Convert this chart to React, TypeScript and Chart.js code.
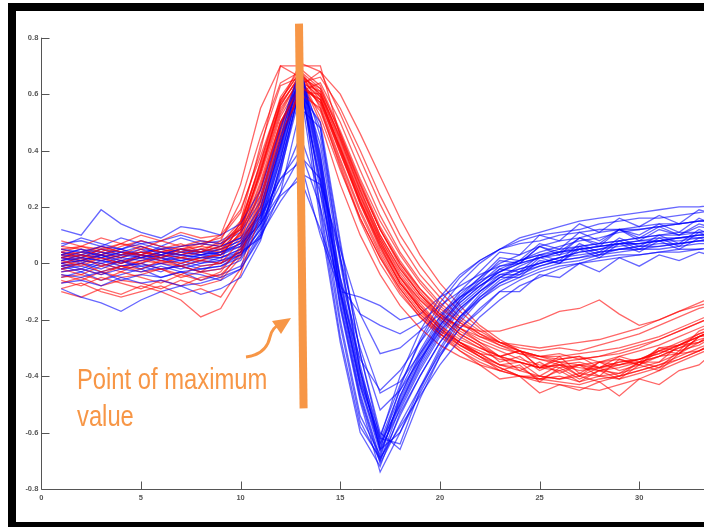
import React, { useEffect, useRef } from "react";
import { Chart, registerables } from "chart.js";

Chart.register(...registerables);

// Sample index (x) of every waveform
const samples = [1, 2, 3, 4, 5, 6, 7, 8, 9, 10, 11, 12, 13, 14, 15, 16, 17, 18, 19, 20, 21, 22, 23, 24, 25, 26, 27, 28, 29, 30, 31, 32, 33, 34];

// Red cluster waveforms
const redTraces: number[][] = [
  [0.02, 0.03, 0.01, 0.03, 0.04, 0.02, 0.05, 0.04, 0.06, 0.14, 0.34, 0.56, 0.67, 0.60, 0.42, 0.24, 0.09, -0.03, -0.12, -0.19, -0.25, -0.29, -0.33, -0.31, -0.37, -0.33, -0.39, -0.35, -0.34, -0.36, -0.30, -0.29, -0.25, -0.23],
  [-0.03, -0.02, -0.04, -0.01, -0.03, -0.02, -0.04, -0.01, 0.00, 0.08, 0.27, 0.50, 0.63, 0.57, 0.39, 0.21, 0.06, -0.07, -0.16, -0.23, -0.28, -0.32, -0.36, -0.37, -0.41, -0.38, -0.42, -0.38, -0.41, -0.36, -0.38, -0.32, -0.31, -0.27],
  [0.05, 0.06, 0.04, 0.07, 0.05, 0.08, 0.06, 0.07, 0.09, 0.18, 0.40, 0.70, 0.70, 0.70, 0.45, 0.27, 0.12, 0.00, -0.09, -0.16, -0.21, -0.26, -0.29, -0.31, -0.33, -0.32, -0.34, -0.33, -0.31, -0.29, -0.27, -0.24, -0.21, -0.18],
  [-0.06, -0.08, -0.05, -0.07, -0.09, -0.06, -0.08, -0.05, -0.04, 0.03, 0.22, 0.46, 0.60, 0.55, 0.36, 0.18, 0.03, -0.09, -0.18, -0.25, -0.30, -0.34, -0.37, -0.40, -0.41, -0.42, -0.43, -0.41, -0.40, -0.38, -0.36, -0.33, -0.30, -0.27],
  [0.01, -0.01, 0.02, 0.00, 0.03, 0.01, 0.00, 0.02, 0.03, 0.11, 0.31, 0.53, 0.66, 0.62, 0.46, 0.28, 0.12, 0.00, -0.10, -0.18, -0.24, -0.28, -0.33, -0.31, -0.37, -0.34, -0.33, -0.37, -0.33, -0.35, -0.30, -0.31, -0.24, -0.21],
  [0.08, 0.06, 0.09, 0.07, 0.10, 0.08, 0.11, 0.09, 0.10, 0.19, 0.38, 0.58, 0.68, 0.59, 0.40, 0.21, 0.05, -0.07, -0.15, -0.22, -0.27, -0.30, -0.33, -0.35, -0.37, -0.38, -0.36, -0.37, -0.35, -0.34, -0.31, -0.29, -0.26, -0.23],
  [-0.02, 0.00, -0.03, -0.01, -0.02, 0.01, -0.01, -0.03, -0.02, 0.05, 0.24, 0.48, 0.64, 0.61, 0.44, 0.26, 0.10, -0.02, -0.11, -0.18, -0.23, -0.27, -0.30, -0.32, -0.33, -0.33, -0.32, -0.31, -0.30, -0.28, -0.26, -0.23, -0.20, -0.17],
  [-0.10, -0.12, -0.09, -0.11, -0.08, -0.10, -0.13, -0.19, -0.16, -0.04, 0.18, 0.44, 0.62, 0.58, 0.41, 0.23, 0.08, -0.05, -0.14, -0.22, -0.28, -0.33, -0.37, -0.40, -0.42, -0.43, -0.44, -0.45, -0.43, -0.41, -0.38, -0.35, -0.32, -0.29],
  [0.03, 0.04, 0.06, 0.04, 0.03, 0.05, 0.04, 0.06, 0.05, 0.12, 0.33, 0.55, 0.65, 0.56, 0.37, 0.19, 0.04, -0.08, -0.17, -0.24, -0.29, -0.33, -0.36, -0.35, -0.40, -0.36, -0.40, -0.37, -0.40, -0.35, -0.37, -0.31, -0.29, -0.25],
  [0.00, 0.02, -0.01, 0.01, 0.00, 0.03, 0.02, 0.01, 0.04, 0.13, 0.36, 0.59, 0.69, 0.63, 0.47, 0.30, 0.15, 0.03, -0.07, -0.15, -0.21, -0.25, -0.28, -0.30, -0.31, -0.30, -0.31, -0.29, -0.27, -0.25, -0.22, -0.19, -0.16, -0.14],
  [0.04, 0.02, 0.05, 0.03, 0.06, 0.04, 0.03, 0.05, 0.07, 0.15, 0.35, 0.57, 0.66, 0.58, 0.39, 0.22, 0.07, -0.05, -0.13, -0.19, -0.22, -0.24, -0.24, -0.22, -0.20, -0.17, -0.16, -0.13, -0.18, -0.22, -0.20, -0.17, -0.15, -0.13],
  [-0.05, -0.04, -0.06, -0.03, -0.05, -0.07, -0.04, -0.06, -0.03, 0.06, 0.26, 0.50, 0.62, 0.54, 0.35, 0.16, 0.02, -0.10, -0.19, -0.26, -0.31, -0.35, -0.38, -0.40, -0.41, -0.40, -0.42, -0.40, -0.39, -0.37, -0.35, -0.32, -0.28, -0.25],
  [0.02, 0.01, 0.03, 0.02, 0.04, 0.03, 0.02, 0.04, 0.08, 0.22, 0.45, 0.64, 0.68, 0.55, 0.34, 0.15, 0.00, -0.11, -0.19, -0.25, -0.29, -0.32, -0.33, -0.38, -0.35, -0.39, -0.36, -0.40, -0.34, -0.36, -0.31, -0.32, -0.26, -0.23],
  [-0.01, 0.01, 0.00, -0.02, 0.01, 0.00, -0.01, 0.01, 0.00, 0.04, 0.20, 0.43, 0.61, 0.64, 0.50, 0.33, 0.17, 0.04, -0.06, -0.14, -0.20, -0.25, -0.29, -0.32, -0.34, -0.35, -0.34, -0.33, -0.32, -0.30, -0.27, -0.24, -0.21, -0.18],
  [0.06, 0.05, 0.03, 0.06, 0.08, 0.06, 0.05, 0.07, 0.06, 0.13, 0.32, 0.54, 0.66, 0.60, 0.43, 0.25, 0.09, -0.04, -0.13, -0.20, -0.26, -0.30, -0.33, -0.35, -0.37, -0.36, -0.35, -0.37, -0.36, -0.34, -0.31, -0.28, -0.25, -0.22],
  [-0.04, -0.06, -0.03, -0.05, -0.04, -0.02, -0.05, -0.03, -0.05, 0.04, 0.23, 0.47, 0.63, 0.58, 0.41, 0.22, 0.06, -0.07, -0.16, -0.23, -0.29, -0.33, -0.38, -0.36, -0.42, -0.37, -0.41, -0.38, -0.39, -0.35, -0.35, -0.29, -0.28, -0.23],
  [0.01, 0.03, 0.02, 0.00, 0.02, 0.04, 0.03, 0.05, 0.04, 0.10, 0.28, 0.50, 0.64, 0.66, 0.55, 0.40, 0.24, 0.10, -0.01, -0.10, -0.17, -0.23, -0.28, -0.31, -0.33, -0.35, -0.36, -0.35, -0.36, -0.34, -0.32, -0.29, -0.26, -0.23],
  [-0.02, -0.04, -0.01, -0.03, 0.00, -0.02, -0.01, -0.03, 0.01, 0.15, 0.42, 0.63, 0.66, 0.50, 0.28, 0.10, -0.04, -0.15, -0.23, -0.29, -0.33, -0.36, -0.38, -0.40, -0.40, -0.41, -0.40, -0.42, -0.40, -0.38, -0.36, -0.34, -0.31, -0.28],
  [0.03, 0.01, 0.04, 0.02, 0.05, 0.02, 0.04, 0.03, 0.05, 0.10, 0.29, 0.52, 0.64, 0.57, 0.40, 0.22, 0.07, -0.06, -0.16, -0.25, -0.31, -0.36, -0.41, -0.40, -0.46, -0.43, -0.45, -0.42, -0.47, -0.41, -0.43, -0.38, -0.36, -0.30],
  [0.04, 0.06, 0.05, 0.07, 0.06, 0.04, 0.06, 0.08, 0.07, 0.12, 0.32, 0.57, 0.71, 0.68, 0.53, 0.37, 0.21, 0.07, -0.04, -0.12, -0.19, -0.24, -0.28, -0.31, -0.33, -0.34, -0.33, -0.35, -0.33, -0.31, -0.29, -0.26, -0.23, -0.20],
  [-0.07, -0.05, -0.08, -0.06, -0.07, -0.09, -0.06, -0.08, -0.06, 0.02, 0.20, 0.45, 0.61, 0.60, 0.45, 0.28, 0.12, -0.01, -0.11, -0.19, -0.25, -0.29, -0.35, -0.33, -0.38, -0.35, -0.40, -0.35, -0.38, -0.36, -0.33, -0.32, -0.26, -0.25],
  [0.00, 0.01, 0.03, 0.01, 0.02, 0.00, 0.02, 0.01, 0.03, 0.11, 0.33, 0.56, 0.67, 0.61, 0.44, 0.26, 0.10, -0.02, -0.11, -0.18, -0.23, -0.26, -0.28, -0.29, -0.30, -0.29, -0.28, -0.27, -0.25, -0.23, -0.20, -0.17, -0.14, -0.11],
  [-0.09, -0.07, -0.10, -0.12, -0.10, -0.08, -0.11, -0.09, -0.12, -0.02, 0.22, 0.49, 0.65, 0.59, 0.41, 0.24, 0.08, -0.05, -0.15, -0.23, -0.28, -0.32, -0.36, -0.38, -0.40, -0.41, -0.39, -0.40, -0.41, -0.39, -0.37, -0.34, -0.31, -0.28],
  [0.02, 0.04, 0.03, 0.05, 0.02, 0.04, 0.05, 0.06, 0.10, 0.28, 0.55, 0.70, 0.66, 0.52, 0.33, 0.16, 0.02, -0.09, -0.18, -0.24, -0.28, -0.31, -0.34, -0.35, -0.37, -0.36, -0.38, -0.37, -0.35, -0.34, -0.32, -0.29, -0.26, -0.23],
  [0.05, 0.03, 0.06, 0.04, 0.03, 0.05, 0.07, 0.04, 0.06, 0.14, 0.36, 0.58, 0.68, 0.62, 0.46, 0.29, 0.13, 0.01, -0.09, -0.17, -0.23, -0.28, -0.31, -0.34, -0.36, -0.37, -0.36, -0.38, -0.37, -0.35, -0.33, -0.30, -0.27, -0.25],
  [-0.01, 0.00, 0.02, -0.01, 0.01, 0.02, 0.00, 0.02, 0.03, 0.09, 0.26, 0.49, 0.63, 0.68, 0.60, 0.46, 0.31, 0.16, 0.03, -0.07, -0.15, -0.22, -0.27, -0.31, -0.34, -0.36, -0.37, -0.38, -0.36, -0.35, -0.33, -0.30, -0.28, -0.25],
];

// Blue cluster waveforms
const blueTraces: number[][] = [
  [0.01, 0.02, 0.01, 0.03, 0.02, 0.04, 0.03, 0.02, 0.04, 0.06, 0.16, 0.40, 0.67, 0.33, -0.11, -0.44, -0.67, -0.50, -0.36, -0.24, -0.15, -0.09, -0.02, -0.03, 0.03, 0.01, 0.07, 0.04, 0.09, 0.06, 0.10, 0.07, 0.12, 0.09],
  [-0.03, -0.02, -0.04, -0.02, -0.03, -0.01, -0.03, -0.02, -0.01, 0.02, 0.12, 0.33, 0.60, 0.50, 0.08, -0.32, -0.62, -0.64, -0.45, -0.31, -0.20, -0.12, -0.06, -0.03, -0.01, 0.01, 0.02, 0.04, 0.05, 0.05, 0.06, 0.07, 0.08, 0.08],
  [0.05, 0.04, 0.06, 0.05, 0.07, 0.05, 0.06, 0.07, 0.06, 0.09, 0.20, 0.44, 0.70, 0.37, -0.07, -0.41, -0.64, -0.47, -0.33, -0.21, -0.12, -0.05, 0.02, 0.01, 0.07, 0.05, 0.11, 0.08, 0.12, 0.10, 0.14, 0.11, 0.16, 0.13],
  [-0.07, -0.06, -0.08, -0.05, -0.07, -0.06, -0.08, -0.07, -0.05, -0.02, 0.09, 0.35, 0.62, 0.15, -0.28, -0.60, -0.72, -0.53, -0.40, -0.28, -0.19, -0.13, -0.08, -0.05, -0.02, 0.00, 0.01, 0.03, 0.04, 0.05, 0.05, 0.06, 0.07, 0.07],
  [0.03, 0.05, 0.02, 0.04, 0.06, 0.03, 0.05, 0.04, 0.03, 0.07, 0.17, 0.41, 0.68, 0.45, 0.02, -0.36, -0.64, -0.50, -0.35, -0.22, -0.13, -0.07, -0.01, 0.00, 0.06, 0.04, 0.09, 0.06, 0.12, 0.09, 0.13, 0.10, 0.14, 0.12],
  [0.12, 0.10, 0.19, 0.14, 0.11, 0.09, 0.13, 0.12, 0.10, 0.14, 0.26, 0.48, 0.69, 0.36, -0.10, -0.43, -0.65, -0.49, -0.35, -0.23, -0.14, -0.08, -0.03, 0.01, 0.04, 0.06, 0.08, 0.09, 0.11, 0.12, 0.13, 0.14, 0.15, 0.16],
  [-0.09, -0.12, -0.14, -0.17, -0.13, -0.10, -0.08, -0.11, -0.09, -0.05, 0.08, 0.32, 0.63, 0.30, -0.14, -0.47, -0.70, -0.54, -0.40, -0.28, -0.19, -0.12, -0.07, -0.04, -0.01, 0.01, 0.02, 0.03, 0.05, 0.06, 0.06, 0.07, 0.08, 0.09],
  [0.02, 0.01, 0.03, 0.00, 0.02, 0.01, 0.03, 0.02, 0.01, 0.03, 0.10, 0.22, 0.32, 0.28, 0.05, -0.18, -0.32, -0.30, -0.24, -0.18, -0.12, -0.08, -0.04, -0.02, 0.00, 0.02, 0.03, 0.04, 0.05, 0.06, 0.07, 0.07, 0.08, 0.08],
  [-0.01, 0.00, -0.02, 0.01, -0.01, 0.00, -0.02, 0.00, 0.01, 0.04, 0.14, 0.28, 0.45, 0.25, -0.05, -0.30, -0.52, -0.45, -0.34, -0.24, -0.16, -0.10, -0.05, -0.02, 0.00, 0.02, 0.04, 0.05, 0.06, 0.07, 0.08, 0.08, 0.09, 0.10],
  [0.00, 0.01, 0.00, 0.02, 0.01, 0.03, 0.01, 0.02, 0.02, 0.05, 0.15, 0.39, 0.66, 0.20, -0.22, -0.56, -0.70, -0.51, -0.37, -0.25, -0.16, -0.10, -0.04, -0.04, 0.02, 0.00, 0.06, 0.03, 0.08, 0.05, 0.09, 0.06, 0.11, 0.08],
  [0.07, 0.08, 0.06, 0.09, 0.07, 0.08, 0.10, 0.08, 0.07, 0.11, 0.22, 0.45, 0.69, 0.38, -0.06, -0.40, -0.63, -0.45, -0.31, -0.19, -0.10, -0.03, 0.04, 0.03, 0.10, 0.08, 0.14, 0.11, 0.16, 0.13, 0.17, 0.14, 0.19, 0.17],
  [-0.04, -0.05, -0.03, -0.06, -0.04, -0.05, -0.03, -0.04, -0.06, -0.02, 0.10, 0.34, 0.63, 0.28, -0.16, -0.49, -0.74, -0.60, -0.46, -0.33, -0.23, -0.16, -0.10, -0.06, -0.03, -0.01, 0.00, 0.02, 0.03, 0.03, 0.04, 0.05, 0.05, 0.06],
  [0.02, 0.04, 0.03, 0.05, 0.03, 0.02, 0.04, 0.03, 0.05, 0.08, 0.18, 0.42, 0.67, 0.34, -0.10, -0.42, -0.62, -0.40, -0.24, -0.12, -0.04, 0.01, 0.05, 0.07, 0.08, 0.10, 0.11, 0.12, 0.12, 0.13, 0.14, 0.14, 0.15, 0.15],
  [-0.02, -0.01, -0.03, -0.01, 0.00, -0.02, -0.01, -0.03, -0.02, 0.01, 0.13, 0.37, 0.65, 0.42, 0.00, -0.38, -0.66, -0.60, -0.44, -0.30, -0.19, -0.11, -0.05, -0.05, 0.01, 0.00, 0.05, 0.02, 0.07, 0.04, 0.08, 0.05, 0.09, 0.07],
  [0.03, 0.02, 0.04, 0.03, 0.05, 0.04, 0.02, 0.03, 0.04, 0.07, 0.14, 0.25, 0.38, 0.30, 0.02, -0.26, -0.46, -0.42, -0.32, -0.22, -0.14, -0.08, -0.03, 0.00, 0.02, 0.04, 0.05, 0.06, 0.07, 0.08, 0.09, 0.09, 0.10, 0.11],
  [0.04, 0.03, 0.05, 0.04, 0.03, 0.06, 0.04, 0.05, 0.03, 0.06, 0.17, 0.42, 0.68, 0.25, -0.20, -0.54, -0.68, -0.48, -0.34, -0.22, -0.13, -0.06, 0.01, 0.00, 0.06, 0.03, 0.09, 0.07, 0.12, 0.08, 0.12, 0.10, 0.13, 0.12],
  [0.01, 0.03, 0.02, 0.04, 0.02, 0.03, 0.05, 0.03, 0.04, 0.07, 0.19, 0.43, 0.68, 0.35, -0.09, -0.43, -0.66, -0.44, -0.27, -0.14, -0.05, 0.01, 0.05, 0.08, 0.10, 0.11, 0.12, 0.14, 0.15, 0.16, 0.16, 0.17, 0.18, 0.19],
  [-0.01, -0.03, 0.00, -0.02, -0.01, -0.03, 0.00, -0.02, -0.01, 0.03, 0.14, 0.37, 0.65, 0.32, -0.12, -0.46, -0.69, -0.58, -0.47, -0.36, -0.27, -0.19, -0.13, -0.08, -0.05, -0.02, 0.00, 0.01, 0.02, 0.03, 0.04, 0.04, 0.05, 0.06],
  [0.02, 0.00, 0.03, 0.01, 0.03, 0.02, 0.01, 0.03, 0.02, 0.04, 0.09, 0.25, 0.55, 0.48, 0.02, -0.38, -0.66, -0.52, -0.38, -0.26, -0.17, -0.10, -0.05, -0.01, 0.02, 0.04, 0.06, 0.07, 0.08, 0.09, 0.10, 0.10, 0.11, 0.12],
  [0.00, -0.02, 0.01, -0.01, 0.00, 0.02, -0.01, 0.01, 0.00, 0.03, 0.12, 0.24, 0.30, 0.12, -0.08, -0.18, -0.22, -0.25, -0.21, -0.15, -0.10, -0.06, -0.03, 0.00, 0.02, 0.03, 0.05, 0.06, 0.07, 0.07, 0.08, 0.09, 0.09, 0.10],
  [0.06, 0.09, 0.07, 0.05, 0.08, 0.06, 0.09, 0.07, 0.08, 0.12, 0.24, 0.47, 0.70, 0.39, -0.05, -0.38, -0.61, -0.43, -0.28, -0.16, -0.07, 0.00, 0.05, 0.09, 0.11, 0.13, 0.15, 0.16, 0.17, 0.18, 0.19, 0.20, 0.20, 0.21],
  [-0.05, -0.03, -0.06, -0.04, -0.02, -0.05, -0.03, -0.06, -0.04, -0.01, 0.11, 0.35, 0.63, 0.29, -0.15, -0.48, -0.71, -0.57, -0.44, -0.32, -0.23, -0.17, -0.10, -0.10, -0.04, -0.05, 0.00, -0.03, 0.02, -0.01, 0.03, 0.01, 0.04, 0.02],
  [0.03, 0.05, 0.04, 0.02, 0.04, 0.03, 0.05, 0.04, 0.06, 0.09, 0.17, 0.30, 0.40, 0.20, -0.10, -0.34, -0.45, -0.38, -0.28, -0.19, -0.12, -0.07, -0.02, 0.01, 0.03, 0.05, 0.06, 0.07, 0.08, 0.09, 0.10, 0.11, 0.11, 0.12],
  [0.00, 0.02, 0.01, 0.00, 0.03, 0.01, 0.02, 0.00, 0.02, 0.05, 0.15, 0.38, 0.64, 0.48, 0.06, -0.32, -0.60, -0.66, -0.48, -0.33, -0.21, -0.13, -0.07, -0.03, 0.00, 0.02, 0.04, 0.05, 0.07, 0.07, 0.08, 0.09, 0.10, 0.10],
  [0.04, 0.02, 0.05, 0.03, 0.04, 0.05, 0.03, 0.04, 0.05, 0.08, 0.18, 0.41, 0.67, 0.18, -0.26, -0.58, -0.69, -0.47, -0.32, -0.20, -0.11, -0.05, 0.00, 0.03, 0.06, 0.08, 0.09, 0.11, 0.12, 0.12, 0.13, 0.14, 0.15, 0.15],
  [-0.02, 0.00, -0.01, 0.01, -0.02, 0.00, 0.01, -0.01, 0.00, 0.04, 0.16, 0.30, 0.36, 0.10, -0.10, -0.12, -0.15, -0.20, -0.18, -0.12, -0.08, -0.04, -0.01, 0.01, 0.03, 0.04, 0.05, 0.06, 0.07, 0.08, 0.08, 0.09, 0.10, 0.10],
];

const xTickValues = [0, 5, 10, 15, 20, 25, 30];
const yTickValues = [-0.8, -0.6, -0.4, -0.2, 0, 0.2, 0.4, 0.6, 0.8];
const xRange = [0, 33.25];
const yRange = [-0.8, 0.8];

// Orange "maximum" marker: start and end, in data units
const markerX = [12.93, 13.16];
const markerY = [0.85, -0.514];
const annotationLines = ["Point of maximum", "value"];

const ORANGE = "#F79646";
const AXIS = "#555555";

const decorPlugin = {
  id: "decor",
  afterDraw(chart: any) {
    const { ctx, chartArea } = chart;
    const x = chart.scales.x;
    const y = chart.scales.y;
    ctx.save();
    ctx.strokeStyle = AXIS;
    ctx.lineWidth = 1;
    ctx.beginPath();
    const lx = Math.round(chartArea.left) + 0.5;
    const by = Math.round(chartArea.bottom) + 0.5;
    ctx.moveTo(lx, y.getPixelForValue(yRange[1]));
    ctx.lineTo(lx, by);
    ctx.lineTo(chartArea.right, by);
    yTickValues.forEach((v) => {
      const py = Math.round(y.getPixelForValue(v)) + 0.5;
      ctx.moveTo(lx, py);
      ctx.lineTo(lx + 8, py);
    });
    xTickValues.forEach((v) => {
      if (v === 0) return;
      const px = Math.round(x.getPixelForValue(v)) + 0.5;
      ctx.moveTo(px, by);
      ctx.lineTo(px, by - 8);
    });
    ctx.stroke();

    ctx.strokeStyle = ORANGE;
    ctx.lineWidth = 8;
    ctx.lineCap = "butt";
    ctx.beginPath();
    ctx.moveTo(x.getPixelForValue(markerX[0]), y.getPixelForValue(markerY[0]));
    ctx.lineTo(x.getPixelForValue(markerX[1]), y.getPixelForValue(markerY[1]));
    ctx.stroke();
    ctx.restore();
  },
};

function toPoints(values: number[]) {
  return values.map((v, i) => ({ x: samples[i], y: v }));
}

export default function App() {
  const ref = useRef<HTMLCanvasElement | null>(null);

  useEffect(() => {
    if (!ref.current) return;
    const datasets: any[] = [];
    const n = Math.max(redTraces.length, blueTraces.length);
    for (let i = 0; i < n; i++) {
      if (blueTraces[i]) {
        datasets.push({
          data: toPoints(blueTraces[i]),
          borderColor: "rgba(0,0,255,0.6)",
          borderWidth: 1.3,
          pointRadius: 0,
          showLine: true,
          tension: 0,
          fill: false,
        });
      }
      if (redTraces[i]) {
        datasets.push({
          data: toPoints(redTraces[i]),
          borderColor: "rgba(255,0,0,0.6)",
          borderWidth: 1.3,
          pointRadius: 0,
          showLine: true,
          tension: 0,
          fill: false,
        });
      }
    }

    const tickFont = { family: "'Liberation Sans', Arial, sans-serif", size: 7.5, weight: "bold" as const };
    const chart = new Chart(ref.current, {
      type: "scatter",
      data: { datasets },
      plugins: [decorPlugin],
      options: {
        animation: false,
        responsive: false,
        devicePixelRatio: 1,
        layout: { padding: { top: 37.7, right: 0, bottom: 0, left: 0 } },
        plugins: { legend: { display: false }, tooltip: { enabled: false } },
        scales: {
          x: {
            type: "linear",
            min: xRange[0],
            max: xRange[1],
            grid: { display: false, drawTicks: false },
            border: { display: false },
            afterBuildTicks: (scale: any) => {
              scale.ticks = xTickValues.map((v) => ({ value: v }));
            },
            afterFit: (scale: any) => {
              scale.height = 38;
            },
            ticks: {
              color: AXIS,
              font: tickFont,
              padding: 4,
              maxRotation: 0,
              autoSkip: false,
              callback: (v: any) => String(v),
            },
          },
          y: {
            type: "linear",
            min: yRange[0],
            max: yRange[1],
            grid: { display: false, drawTicks: false },
            border: { display: false },
            afterBuildTicks: (scale: any) => {
              scale.ticks = yTickValues.map((v) => ({ value: v }));
            },
            afterFit: (scale: any) => {
              scale.width = 41.3;
            },
            ticks: {
              color: AXIS,
              font: tickFont,
              padding: 3,
              autoSkip: false,
              callback: (v: any) => String(Math.round(Number(v) * 10) / 10),
            },
          },
        },
      },
    });
    return () => chart.destroy();
  }, []);

  return (
    <div
      style={{
        position: "fixed",
        left: 0,
        top: 0,
        width: 704,
        height: 527,
        background: "#ffffff",
        overflow: "hidden",
      }}
    >
      <canvas ref={ref} width={704} height={527} style={{ position: "absolute", left: 0, top: 0 }} />
      <div style={{ position: "absolute", left: 8, top: 3, width: 8, height: 524, background: "#000" }} />
      <div style={{ position: "absolute", left: 8, top: 3, width: 696, height: 8, background: "#000" }} />
      <div style={{ position: "absolute", left: 8, top: 522, width: 696, height: 5, background: "#000" }} />
      <svg width={704} height={527} style={{ position: "absolute", left: 0, top: 0 }}>
        <path
          d="M 246 357 C 262 355, 268 346, 270 337 C 272 329, 275 327, 280 324"
          stroke={ORANGE}
          strokeWidth={3}
          fill="none"
        />
        <polygon points="291,318 272,321 281,334" fill={ORANGE} />
      </svg>
      <div
        style={{
          position: "absolute",
          left: 77,
          top: 360.5,
          fontFamily: "'Liberation Sans', Arial, sans-serif",
          fontSize: 29,
          lineHeight: "37px",
          color: ORANGE,
          whiteSpace: "nowrap",
          transform: "scaleX(0.82)",
          transformOrigin: "left top",
        }}
      >
        {annotationLines.map((t) => (
          <div key={t}>{t}</div>
        ))}
      </div>
    </div>
  );
}
